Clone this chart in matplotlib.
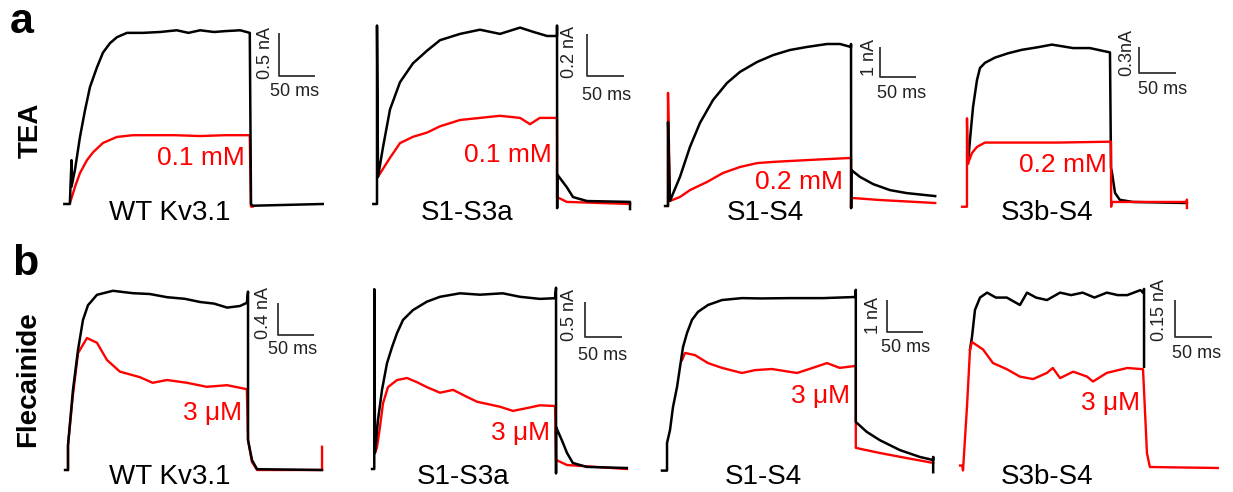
import matplotlib
matplotlib.use('Agg')
import matplotlib.pyplot as plt

W, H = 1233, 492
plt.rcParams['font.family'] = ['Liberation Sans', 'DejaVu Sans']

# ---------------- data (time in ms, current in nA) ----------------
# Row a: TEA
a1_ctrl_t = [-5, 2.5, 4.8, 4.8, 9.6, 16.4, 23.3, 30.1, 39.7, 47.9, 57.5, 67.1, 80.8, 102.7, 126, 149, 165, 181, 200, 215, 236, 249, 250.7, 253, 349]
a1_ctrl_i = [0, 0, 0.51, 0.2, 0.40, 0.78, 1.09, 1.36, 1.59, 1.76, 1.87, 1.94, 1.99, 1.99, 2.0, 2.02, 1.99, 2.02, 2.0, 2.01, 2.02, 1.99, 0, -0.02, 0]
a1_drug_t = [2.7, 9.6, 16.4, 26, 34.2, 47.9, 67.1, 89, 116, 146.6, 181, 215, 249, 250.5, 253]
a1_drug_i = [0.01, 0.20, 0.36, 0.51, 0.60, 0.71, 0.78, 0.80, 0.80, 0.80, 0.79, 0.80, 0.80, -0.03, -0.03]

a2_ctrl_t = [-5, 0, 0, 1.4, 8.2, 17.8, 31.5, 49.3, 68.5, 86.3, 113.7, 141, 168.5, 196, 213.7, 233, 246.6, 246.6, 246.8, 247, 260, 268.5, 287.7, 346.6, 346.6]
a2_ctrl_i = [0, 0, 0.85, 0.13, 0.27, 0.45, 0.58, 0.67, 0.73, 0.78, 0.81, 0.83, 0.81, 0.84, 0.82, 0.80, 0.80, 0.85, -0.02, 0.14, 0.08, 0.033, 0.014, 0.01, -0.024]
a2_drug_t = [1.4, 17.8, 31.5, 49.3, 68.5, 86.3, 113.7, 141, 168.5, 196, 209.6, 223, 246.6, 246.6, 260, 346.6]
a2_drug_i = [0.13, 0.22, 0.29, 0.32, 0.34, 0.37, 0.40, 0.41, 0.42, 0.41, 0.38, 0.41, 0.41, 0.033, 0.01, 0.0]

a3_ctrl_t = [-4, 0, 0, 2.7, 16.4, 30.1, 43.8, 61.6, 80.8, 98.6, 122, 144, 167, 190, 218, 235.6, 250.7, 250.7, 250.9, 251.1, 263, 281, 304, 327, 366]
a3_ctrl_i = [0, 0, 2.8, 0.17, 0.97, 1.97, 2.77, 3.53, 4.1, 4.47, 4.8, 5.03, 5.2, 5.3, 5.4, 5.4, 5.3, 5.4, -0.07, 1.2, 0.97, 0.73, 0.53, 0.43, 0.33]
a3_drug_t = [0, 0, 2.7, 16.4, 30.1, 53.4, 75.3, 98.6, 122, 144, 167, 190, 249, 250.7, 250.7, 250.9, 290, 366]
a3_drug_i = [0, 3.77, 0.17, 0.3, 0.53, 0.8, 1.1, 1.3, 1.43, 1.47, 1.5, 1.53, 1.6, 1.6, -0.07, 0.27, 0.2, 0.1]

a4_ctrl_t = [4.1, 6.8, 11, 16.4, 20.5, 27.4, 41, 59, 78, 100, 119, 148, 171, 198.6, 200, 201.4, 205.5, 212, 230, 304]
a4_ctrl_i = [0.48, 0.75, 1.13, 1.44, 1.58, 1.64, 1.70, 1.75, 1.79, 1.82, 1.85, 1.81, 1.81, 1.76, 0.43, 0.37, 0.14, 0.06, 0.035, 0.023]
a4_drug_t = [-4, 2.7, 2.7, 4.1, 9.6, 16.4, 27.4, 55, 79.5, 126, 198.6, 200, 200.2, 201, 304, 304, 304]
a4_drug_i = [-0.02, -0.02, 1.0, 0.48, 0.6, 0.67, 0.72, 0.72, 0.72, 0.72, 0.73, 0.73, -0.02, 0.035, 0.035, 0.06, -0.035]

# Row b: Flecainide
b1_ctrl_t = [-4, 0, 0, 6.8, 13.7, 20.5, 27.4, 39.7, 61.6, 89, 112, 135.6, 160, 181, 200, 218, 235.6, 245, 246.6, 246.6, 252, 259, 348]
b1_ctrl_i = [0, 0, 0.31, 1.0, 1.5, 1.875, 2.06, 2.19, 2.24, 2.21, 2.2, 2.16, 2.14, 2.1, 2.08, 2.03, 2.05, 2.09, 2.23, 0.375, 0.125, 0.01, 0]
b1_drug_t = [0, 0, 6.8, 13.7, 26, 39.7, 53.4, 71, 98.6, 116, 135.6, 163, 190, 218, 245, 246.6, 252, 259, 348, 348]
b1_drug_i = [0, 0.31, 0.94, 1.46, 1.65, 1.59, 1.375, 1.23, 1.16, 1.09, 1.125, 1.09, 1.04, 1.06, 1.01, 0.375, 0.1, 0, 0, 0.29]

b2_ctrl_t = [-4, -1, -1, 0, 4.1, 9.6, 16.4, 23.3, 30.1, 38.4, 52, 71, 89, 116.4, 143.8, 175, 198.6, 226, 246.6, 248, 248, 248, 256, 263, 271, 290, 345]
b2_ctrl_i = [0, 0, 2.57, 0.23, 0.7, 1.13, 1.51, 1.74, 1.94, 2.13, 2.27, 2.39, 2.46, 2.51, 2.49, 2.51, 2.46, 2.43, 2.44, 2.59, -0.06, 0.6, 0.41, 0.23, 0.086, 0.03, 0.014]
b2_drug_t = [0, 2.7, 6.8, 11, 17.8, 30.1, 43.8, 57.5, 71, 89, 107, 126, 140, 171, 189, 208, 226, 246.6, 248, 263, 345]
b2_drug_i = [0.23, 0.31, 0.6, 0.94, 1.17, 1.27, 1.3, 1.24, 1.17, 1.09, 1.13, 1.03, 0.96, 0.89, 0.83, 0.87, 0.91, 0.9, 0.13, 0.057, 0]

b3_ctrl_t = [-5.5, 1.4, 1.4, 5.5, 9.6, 15.1, 19.2, 23.3, 28.8, 35.6, 43.8, 57.5, 76.7, 104, 130, 170, 215, 259, 260, 260, 275, 293, 320.5, 348, 366, 366, 366]
b3_ctrl_i = [-0.05, -0.05, 0.81, 1.22, 1.94, 2.56, 3.19, 3.81, 4.25, 4.66, 4.91, 5.125, 5.28, 5.34, 5.33, 5.34, 5.34, 5.375, 5.6, 1.47, 1.16, 0.9, 0.59, 0.375, 0.28, 0.375, -0.1]
b3_drug_t = [21.9, 26, 39.7, 57.5, 76.7, 104, 122, 145, 179.5, 201, 220.5, 238, 259, 260, 260, 293, 330, 366]
b3_drug_i = [3.4, 3.625, 3.56, 3.31, 3.16, 3.0, 3.09, 3.125, 3.0, 3.16, 3.31, 3.16, 3.22, 3.22, 0.66, 0.5, 0.34, 0.19]

b4_ctrl_t = [9.6, 12.3, 16.4, 23.3, 33, 45, 60, 78, 87.7, 100, 115, 133, 148, 164, 180, 197, 212, 225, 243, 246.6, 248, 248]
b4_ctrl_i = [0.48, 0.53, 0.64, 0.69, 0.71, 0.69, 0.69, 0.66, 0.71, 0.69, 0.68, 0.71, 0.70, 0.71, 0.69, 0.71, 0.70, 0.70, 0.72, 0.71, 0.725, 0.41]
b4_drug_t = [-4, -1, 0, 5.5, 9.6, 12.3, 27.4, 41, 60, 78, 96, 115, 123, 133, 151, 170, 178, 197, 225, 246.6, 252, 256, 349]
b4_drug_i = [0.01, 0.01, -0.01, 0.25, 0.48, 0.51, 0.48, 0.425, 0.4, 0.37, 0.36, 0.385, 0.405, 0.364, 0.39, 0.37, 0.35, 0.385, 0.405, 0.4, 0.06, 0.004, 0]

construct_names = ['WT Kv3.1', 'S1-S3a', 'S1-S4', 'S3b-S4']
tea_conc = ['0.1 mM', '0.1 mM', '0.2 mM', '0.2 mM']
flec_conc = ['3 μM', '3 μM', '3 μM', '3 μM']
scale_nA = [[0.5, 0.2, 1, 0.3], [0.4, 0.5, 1, 0.15]]
scale_nA_text = [['0.5 nA', '0.2 nA', '1 nA', '0.3nA'], ['0.4 nA', '0.5 nA', '1 nA', '0.15 nA']]
scale_ms = 50

traces = [
    [(a1_ctrl_t, a1_ctrl_i, a1_drug_t, a1_drug_i), (a2_ctrl_t, a2_ctrl_i, a2_drug_t, a2_drug_i),
     (a3_ctrl_t, a3_ctrl_i, a3_drug_t, a3_drug_i), (a4_ctrl_t, a4_ctrl_i, a4_drug_t, a4_drug_i)],
    [(b1_ctrl_t, b1_ctrl_i, b1_drug_t, b1_drug_i), (b2_ctrl_t, b2_ctrl_i, b2_drug_t, b2_drug_i),
     (b3_ctrl_t, b3_ctrl_i, b3_drug_t, b3_drug_i), (b4_ctrl_t, b4_ctrl_i, b4_drug_t, b4_drug_i)],
]

# ---------------- layout (pixels) ----------------
SX = 0.73  # px per ms
col_box = [(50, 335), (355, 645), (650, 945), (950, 1230)]
row_box = [(0, 240), (240, 492)]
origin = [[(68, 204, 86), (377, 204, 210), (668, 206, 30), (965, 205, 86.7)],
          [(68, 470, 80), (375, 469, 70), (666, 469, 32), (963, 468, 247)]]
sb_corner = [[(279, 76), (587, 76), (880, 77), (1139, 73)],
             [(278, 335), (585, 337), (887, 332), (1175, 337)]]
sb_vtext = [[(265, 53), (570, 52), (870, 58), (1127, 53)],
            [(263, 313), (570, 315), (873, 315), (1160, 310)]]
sb_htext = [[(295, 91), (607, 96), (902, 93), (1163, 89)],
            [(293, 350), (603, 355), (906, 348), (1197, 354)]]
name_pos = [[(170, 213), (467, 213), (765, 213), (1047, 213)],
            [(170, 477), (463, 477), (763, 477), (1047, 477)]]
conc_pos = [[(245, 158), (552, 155), (843, 182), (1107, 165)],
            [(242, 413), (550, 433), (850, 396), (1140, 403)]]
red_on_top = [[False, False, False, True], [False, False, False, True]]

fig = plt.figure(figsize=(W / 100, H / 100), dpi=100)


def fx(x):
    return x / W


def fy(y):
    return 1 - y / H


RED = '#ff0000'
SBC = '#333333'

for r in range(2):
    T, B = row_box[r]
    for c in range(4):
        L, R = col_box[c]
        ox, oy, sy = origin[r][c]
        ax = fig.add_axes([L / W, 1 - B / H, (R - L) / W, (B - T) / H])
        ax.set_xlim((L - ox) / SX, (R - ox) / SX)
        ax.set_ylim((oy - B) / sy, (oy - T) / sy)
        ax.axis('off')
        ct, ci, dt, di = traces[r][c]
        zr = 3 if red_on_top[r][c] else 1
        ax.plot(dt, di, color=RED, lw=1.7, zorder=zr, solid_joinstyle='round')
        ax.plot(ct, ci, color='black', lw=1.8, zorder=2, solid_joinstyle='round')
        # scale bar
        cx, cy = sb_corner[r][c]
        t0 = (cx - ox) / SX
        i0 = (oy - cy) / sy
        ax.plot([t0, t0, t0 + scale_ms], [i0 + scale_nA[r][c], i0, i0],
                color=SBC, lw=1.3, clip_on=False, solid_capstyle='butt')
        vx, vy = sb_vtext[r][c]
        fig.text(fx(vx), fy(vy), scale_nA_text[r][c], rotation=90, ha='center', va='center',
                 fontsize=13, color='#222222')
        hx, hy = sb_htext[r][c]
        fig.text(fx(hx), fy(hy), '%d ms' % scale_ms, ha='center', va='center',
                 fontsize=13, color='#222222')
        nx, ny = name_pos[r][c]
        fig.text(fx(nx), fy(ny), construct_names[c], ha='center', va='center', fontsize=20)
        px_, py_ = conc_pos[r][c]
        conc = tea_conc[c] if r == 0 else flec_conc[c]
        fig.text(fx(px_), fy(py_), conc, ha='right', va='center', fontsize=19, color=RED)

fig.text(fx(22), fy(22), 'a', ha='center', va='center', fontsize=31, fontweight='bold')
fig.text(fx(25), fy(264), 'b', ha='center', va='center', fontsize=31, fontweight='bold')
fig.text(fx(31), fy(130), 'TEA', rotation=90, ha='center', va='center', fontsize=20, fontweight='bold')
fig.text(fx(28), fy(379), 'Flecainide', rotation=90, ha='center', va='center', fontsize=20, fontweight='bold')

fig.savefig('out.png', dpi=100)
